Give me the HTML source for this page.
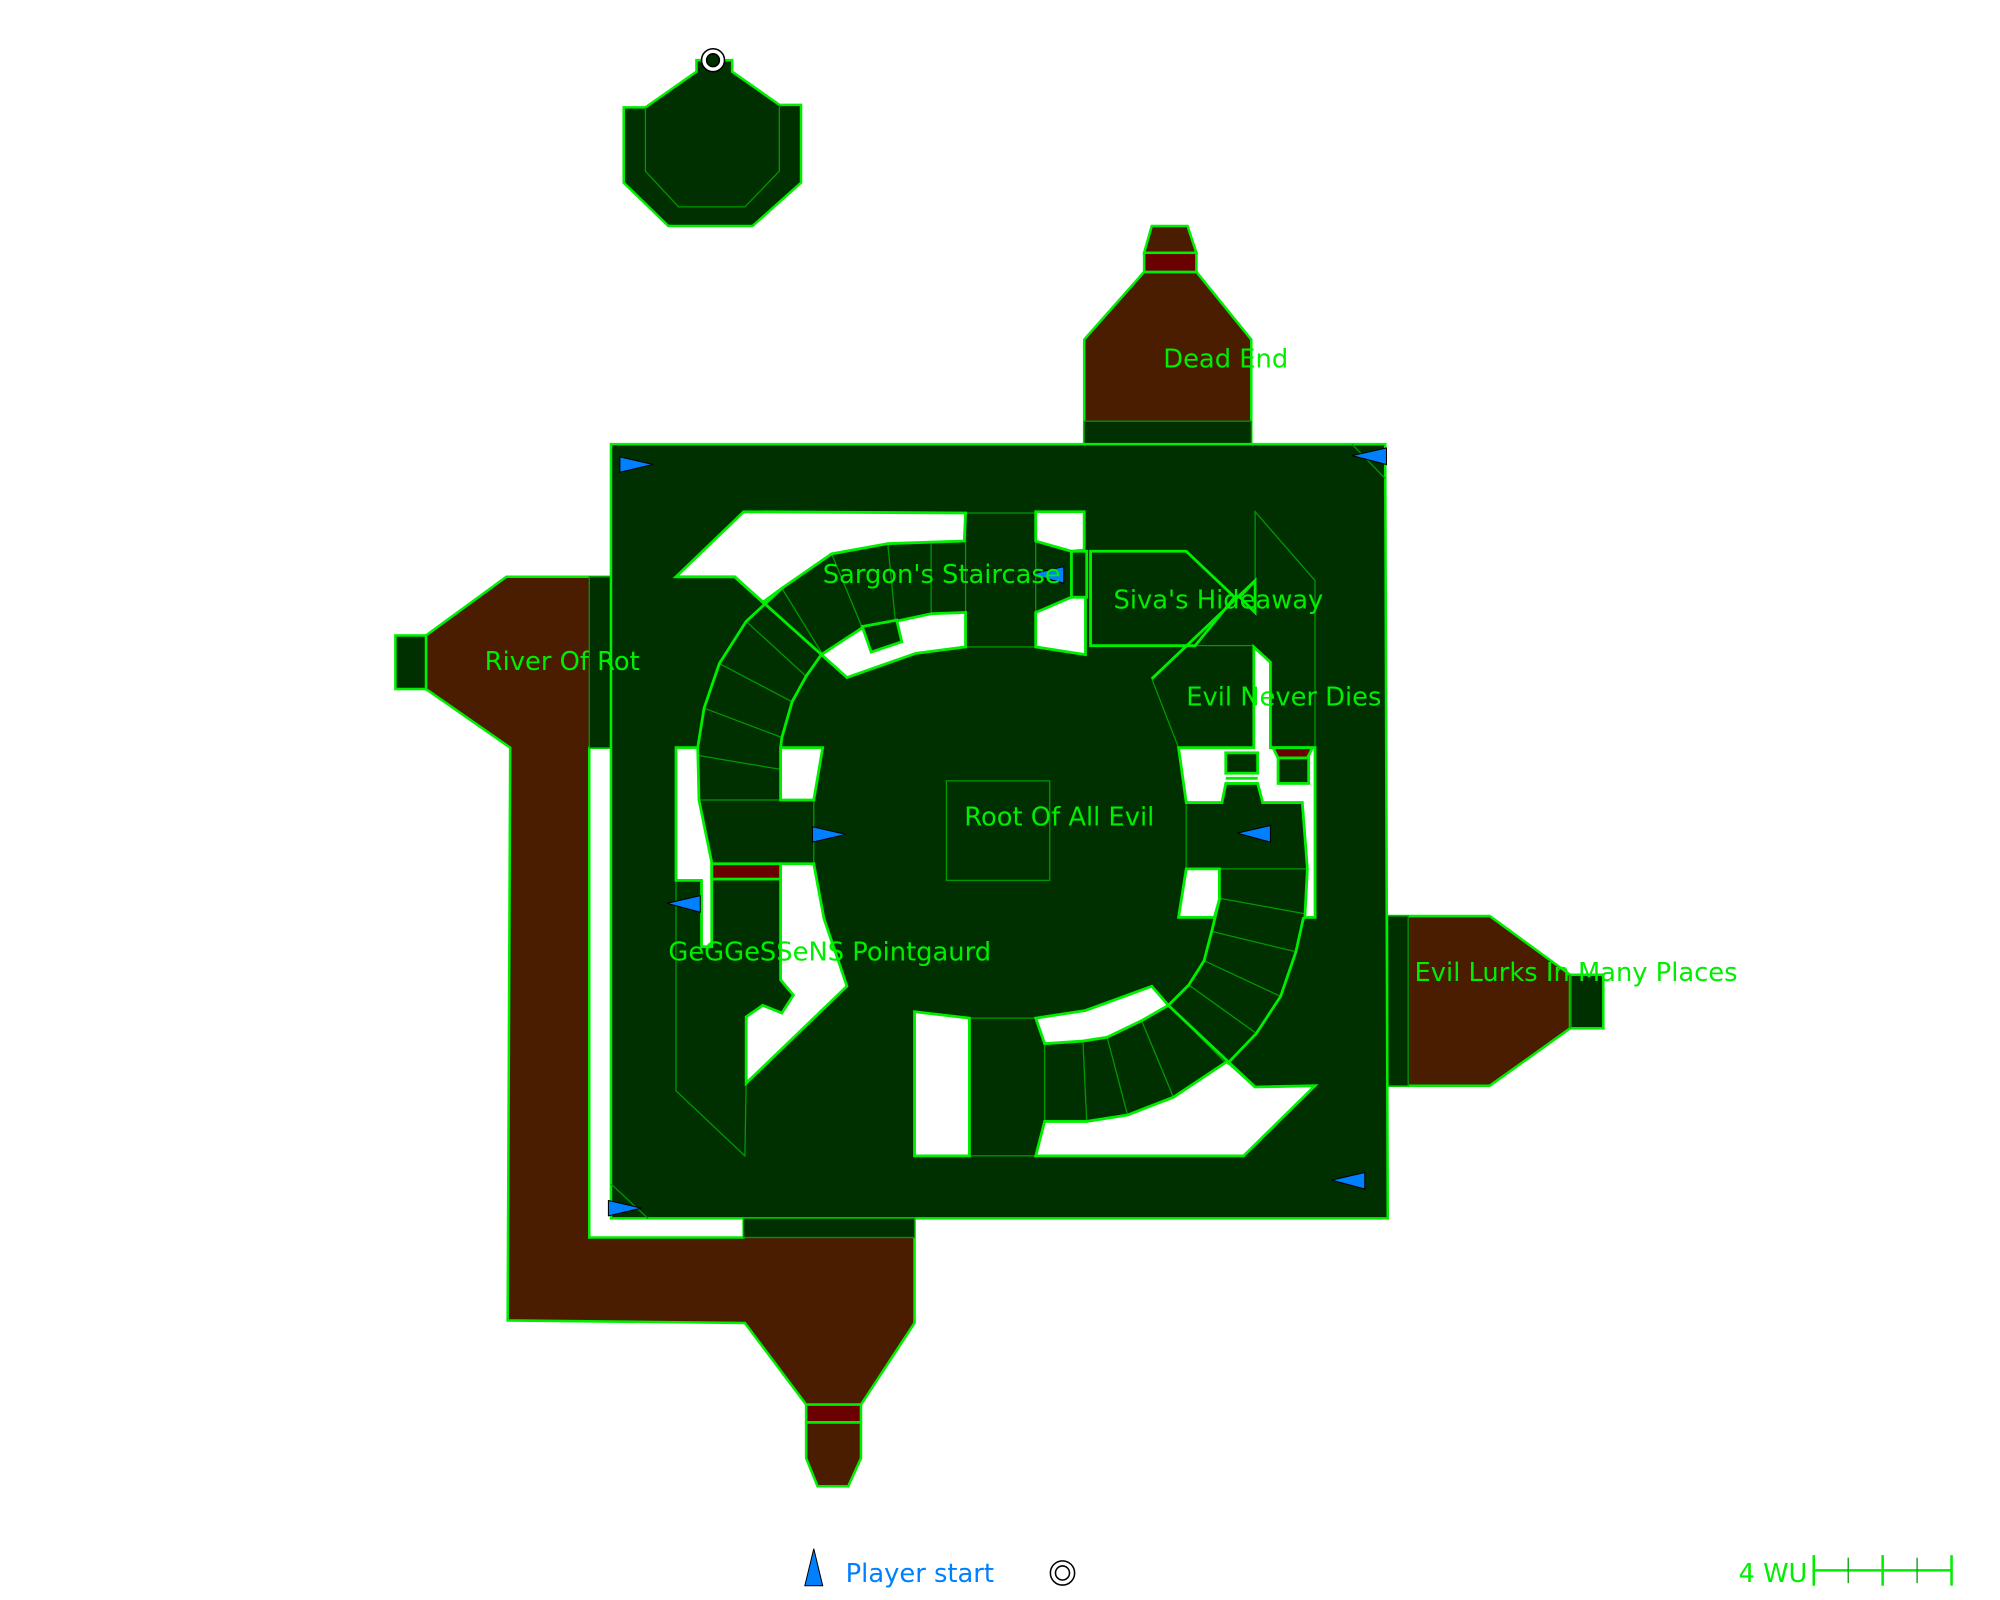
<!DOCTYPE html>
<html><head><meta charset="utf-8"><style>html,body{margin:0;padding:0;background:#fff}svg{display:block}</style></head><body>
<svg width="2000" height="1600" viewBox="0 0 1568 1254" xmlns="http://www.w3.org/2000/svg" font-family="DejaVu Sans, Liberation Sans, sans-serif">
<rect width="1568" height="1254" fill="#fff"/>
<g stroke="#00ee00" stroke-width="2" stroke-linejoin="miter">
<polygon points="546,47 546,56 506,84 489,84 489,143 524,177 590,177 628,143 628,82 611,82 574,56 574,47" fill="#003000"/>
<polyline points="506,84 506,134 532,162 584,162 611,134 611,82" fill="none" stroke="#009900" stroke-width="1"/>
<polygon points="850,266 897,213 938,213 981,266 981,348 850,348" fill="#4a1c00"/>
<rect x="850" y="330" width="131" height="18" fill="#003000" stroke="#009900" stroke-width="1"/>
<polygon points="903,177 931,177 938,198 897,198" fill="#4a1c00"/>
<rect x="897" y="198" width="41" height="15" fill="#6b0000"/>
<polygon points="334,498 397,452 479,452 479,586 462,586 462,970 583,970 583,955 717,955 717,1037 675,1101 632,1101 584,1037 398,1035 400,586 334,540" fill="#4a1c00"/>
<rect x="310" y="498" width="24" height="42" fill="#003000"/>
<rect x="462" y="452" width="17" height="134" fill="#003000" stroke="#009900" stroke-width="1"/>
<rect x="632" y="1101" width="43" height="14" fill="#6b0000"/>
<polygon points="632,1115 675,1115 675,1143 665,1165 641,1165 632,1143" fill="#4a1c00"/>
<polygon points="1088,718 1168,718 1231,764 1231,806 1168,851 1088,851" fill="#4a1c00"/>
<rect x="1088" y="718" width="16" height="133" fill="#003000" stroke="#009900" stroke-width="1"/>
<rect x="1231" y="764" width="26" height="42" fill="#003000"/>
<line x1="1231" y1="764" x2="1231" y2="806" stroke="#009900" stroke-width="1"/>
<polygon points="479,348 1086,348 1088,955 479,955" fill="#003000"/>
<rect x="583" y="955" width="134" height="15" fill="#003000" stroke="#009900" stroke-width="1"/>
</g>
<g stroke="#009900" stroke-width="1" fill="none">
<line x1="1060" y1="348" x2="1086" y2="375"/>
<line x1="479" y1="928" x2="508" y2="955"/>
<polyline points="530,690 530,855 584,906 585,849"/>
<polyline points="984,455 984,401 1031,455 1031,586"/>
<rect x="742" y="612" width="81" height="78"/>
<rect x="757" y="402" width="55" height="105"/>
<rect x="760" y="798" width="59" height="108"/>
<line x1="930" y1="629" x2="930" y2="681"/><line x1="930" y1="681" x2="1025" y2="681"/>
<line x1="548" y1="627" x2="638" y2="627"/><line x1="638" y1="627" x2="638" y2="677"/>
<line x1="903" y1="532" x2="924" y2="586"/>
<line x1="613" y1="461" x2="645" y2="513"/>
<line x1="585" y1="487" x2="632" y2="530"/>
<line x1="564" y1="520" x2="621" y2="550"/>
<line x1="552" y1="555" x2="613" y2="578"/>
<line x1="547" y1="592" x2="612" y2="603"/>
<line x1="652" y1="434" x2="676" y2="492"/>
<line x1="696" y1="426" x2="702" y2="487"/>
<line x1="730" y1="424" x2="730" y2="481"/>
<line x1="956" y1="704" x2="1022" y2="716"/>
<line x1="950" y1="730" x2="1016" y2="746"/>
<line x1="944" y1="753" x2="1004" y2="781"/>
<line x1="932" y1="772" x2="985" y2="810"/>
<line x1="916" y1="788" x2="962" y2="834"/>
<line x1="895" y1="800" x2="920" y2="860"/>
<line x1="868" y1="813" x2="884" y2="874"/>
<line x1="849" y1="816" x2="852" y2="879"/>
<line x1="855" y1="506" x2="983" y2="506"/>
</g>
<g stroke="#00ee00" stroke-width="2.2" fill="#fff" stroke-linejoin="miter">
<polygon points="530,452 583,401 757,402 756,424 696,426 652,434 613,461 598,472 576,452"/>
<polygon points="644,513 676,492 702,487 730,481 757,480 757,507 718,512 664,531"/>
<polygon points="676,491 703,486 707,503 683,511" fill="#003000"/>
<polygon points="812,401 850,401 850,431 840,432 812,424"/>
<polygon points="812,480 840,468 851,468 851,513 812,507"/>
<rect x="840" y="432" width="12" height="36" fill="#003000"/>
<polygon points="855,432 930,432 968,468 937,506 855,506" fill="#003000"/>
<polygon points="530,586 547,586 548,627 558,676 558,742 550,742 550,690 530,690"/>
<polygon points="612,586 645,586 638,627 612,627"/>
<polygon points="612,677 638,677 646,720 664,773 585,849 585,797 598,788 613,794 622,780 612,768"/>
<rect x="558" y="677" width="54" height="12" fill="#6b0000"/>
<polygon points="717,793 760,798 760,906 717,906"/>
<polygon points="812,798 851,792 903,773 916,788 895,800 868,813 849,816 819,818"/>
<polygon points="819,879 852,879 884,874 920,860 962,832 984,852 1031,851 975,906 812,906"/>
<polygon points="924,586 983,586 983,507 996,519 996,586 1031,586 1031,719 1023,719 1025,681 1021,629 990,629 986,614 961,614 958,629 930,629"/>
<polygon points="930,681 956,681 956,705 952,719 924,719"/>
<polygon points="998,586 1029,586 1025,594 1002,594" fill="#6b0000"/>
<rect x="1002" y="594" width="24" height="20" fill="#003000"/>
<rect x="961" y="590" width="25" height="16" fill="#003000"/>
<line x1="961" y1="610" x2="986" y2="610"/>
</g>
<g stroke="#00ee00" stroke-width="2.2" fill="none">
<line x1="576" y1="452" x2="644" y2="513"/>
<polyline points="613,461 585,487 564,520 552,555 547,586"/>
<polyline points="644,513 632,530 621,550 613,578 612,586"/>
<polyline points="1022,719 1016,746 1004,781 985,810 962,834"/>
<polyline points="956,705 950,730 944,753 932,772 916,788 984,852"/>
<line x1="903" y1="532" x2="984" y2="455"/>
<polygon points="984,455 984,480 972,468"/>
</g>
<g fill="#0080ff" stroke="#000" stroke-width="0.8">
<polygon points="486,358 512,364 486,370"/>
<polygon points="1087,351 1060,357 1087,364"/>
<polygon points="637,648 663,654 637,660"/>
<polygon points="996,647 970,653 996,660"/>
<polygon points="549,702 523,708 549,715"/>
<polygon points="834,444 808,450 834,457"/>
<polygon points="477,941 503,947 477,953"/>
<polygon points="1070,919 1044,925 1070,932"/>
<polygon points="638,1214 645,1243 631,1243"/>
</g>
<g fill="#fff" stroke="#000" stroke-width="1.2">
<circle cx="559" cy="47" r="9"/><circle cx="559" cy="47" r="5" fill="#003000"/>
<circle cx="833" cy="1233" r="9.5"/><circle cx="833" cy="1233" r="5.5"/>
</g>
<g fill="#00ee00" font-size="20.2">
<text x="912" y="288">Dead End</text>
<text x="380" y="525">River Of Rot</text>
<text x="645" y="457">Sargon's Staircase</text>
<text x="873" y="477">Siva's Hideaway</text>
<text x="930" y="553">Evil Never Dies</text>
<text x="756" y="647">Root Of All Evil</text>
<text x="524" y="753">GeGGeSSeNS Pointgaurd</text>
<text x="1109" y="769">Evil Lurks In Many Places</text>
<text x="1363" y="1240">4 WU</text>
</g>
<text x="663" y="1240" fill="#0080ff" font-size="20.2">Player start</text>
<g stroke="#00ee00" stroke-width="2">
<line x1="1422" y1="1231" x2="1530" y2="1231"/>
<line x1="1422" y1="1219" x2="1422" y2="1243"/>
<line x1="1476" y1="1219" x2="1476" y2="1243"/>
<line x1="1530" y1="1219" x2="1530" y2="1243"/>
</g>
<g stroke="#009900" stroke-width="1">
<line x1="1449" y1="1221" x2="1449" y2="1241"/>
<line x1="1503" y1="1221" x2="1503" y2="1241"/>
</g>
</svg>
</body></html>
